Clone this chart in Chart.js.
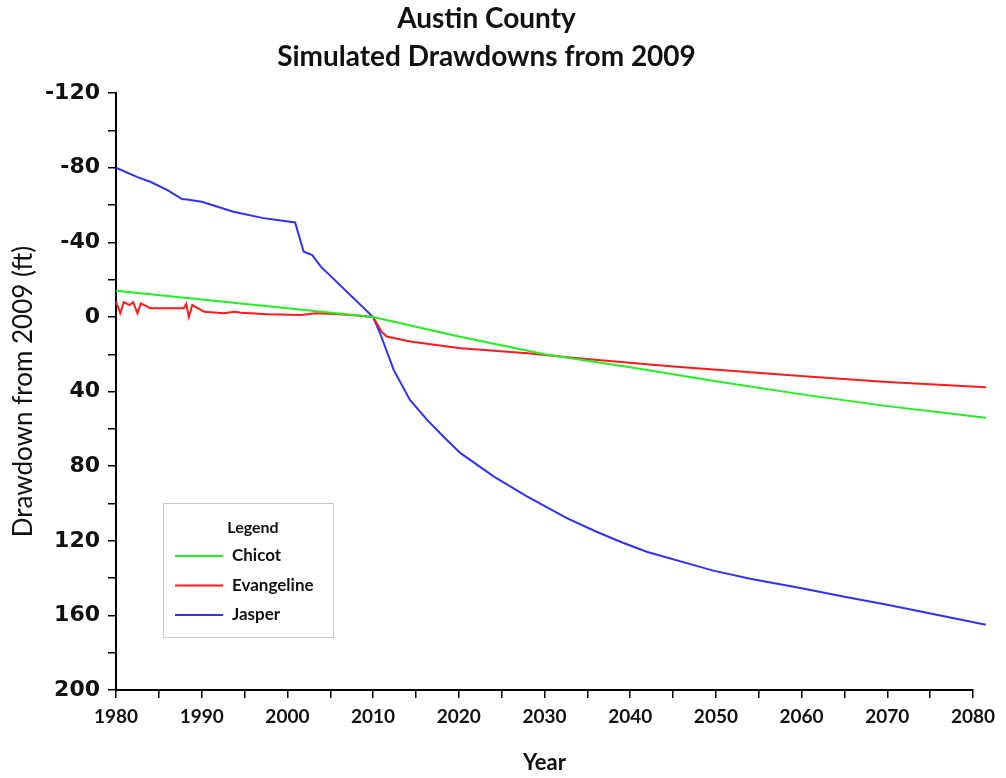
<!DOCTYPE html>
<html>
<head>
<meta charset="utf-8">
<title>Austin County Simulated Drawdowns</title>
<script src="https://cdn.jsdelivr.net/npm/chart.js@4/dist/chart.umd.min.js"></script>
<style>
  body { margin: 0; background: #fff; }
  #wrap { width: 1006px; height: 778px; position: relative; }
</style>
</head>
<body>
<div id="wrap"><canvas id="LineChart"></canvas></div>
<script>
// values (drawdown in ft, negative = rise)
var chicotYears = [1980, 2010, 2020, 2030, 2040, 2050, 2060, 2070, 2081.5];
var chicotValues = [-14, 0, 10.5, 20, 27, 34.5, 41.5, 47.8, 54];

var evangelineYears = [1980, 1980.5, 1980.9, 1981.6, 1982, 1982.5, 1982.9, 1984, 1987.9, 1988.2, 1988.5, 1988.9, 1990.3, 1992.6, 1993.8, 1994.6, 1997.7, 2001.6, 2003.3, 2006, 2008.5, 2010, 2011, 2011.6, 2014.3, 2020.2, 2028, 2034.2, 2045, 2059.9, 2070, 2081.5];
var evangelineValues = [-8.2, -2, -7.9, -6.4, -7.9, -2, -7.3, -4.7, -4.7, -7, 0, -6.4, -2.8, -2, -2.8, -2.3, -1.4, -1.1, -2, -1.5, -0.7, 0, 8, 10.5, 13.2, 16.8, 19.5, 22.2, 26.5, 31.6, 34.8, 37.7];

var jasperYears = [1980, 1982.5, 1984, 1986, 1987.7, 1988.3, 1990, 1993.7, 1997.2, 2000.9, 2001.9, 2002.9, 2003.9, 2010, 2010.8, 2012.4, 2014.3, 2016.3, 2018.4, 2020.2, 2024.1, 2028, 2032.6, 2036, 2039, 2042, 2049.7, 2054, 2060, 2065, 2070, 2081.5];
var jasperValues = [-80, -75, -72.5, -68, -63.2, -63, -61.8, -56.4, -53, -50.7, -35, -33.2, -27, 0, 8.6, 28.4, 44.5, 55.2, 65, 73, 85.6, 96.3, 107.9, 115, 120.8, 126, 136, 140.3, 145.4, 150, 154.3, 165];

var titleLines = ['Austin County', 'Simulated Drawdowns from 2009'];

function toPoints(xs, ys) {
    var pts = [];
    for (var i = 0; i < xs.length; i++) {
        pts.push({ x: xs[i], y: ys[i] });
    }
    return pts;
}

// small legend box inside the plot, like the original
var boxLegend = {
    id: 'boxLegend',
    afterDraw: function (chart) {
        var ctx = chart.ctx;
        var x = 163, y = 503, w = 170, h = 134;
        ctx.save();
        ctx.fillStyle = '#fff';
        ctx.fillRect(x, y, w, h);
        ctx.strokeStyle = '#c8c8c8';
        ctx.lineWidth = 1;
        ctx.strokeRect(x + 0.5, y + 0.5, w, h);
        ctx.fillStyle = '#111';
        ctx.textBaseline = 'middle';
        ctx.textAlign = 'center';
        ctx.font = 'bold 16px Lato';
        ctx.fillText('Legend', x + 90, y + 25);
        ctx.textAlign = 'left';
        ctx.font = 'bold 17px Lato';
        chart.data.datasets.forEach(function (ds, i) {
            var ly = y + 53 + i * 29.5;
            ctx.strokeStyle = ds.borderColor;
            ctx.lineWidth = 2;
            ctx.beginPath();
            ctx.moveTo(x + 12, ly);
            ctx.lineTo(x + 60, ly);
            ctx.stroke();
            ctx.fillText(ds.label, x + 69, ly);
        });
        ctx.restore();
    }
};

const ctx = document.getElementById('LineChart');
new Chart(ctx, {
    type: 'line',
    data: {
        datasets: [{
            label: 'Chicot',
            data: toPoints(chicotYears, chicotValues),
            borderColor: '#22ee22',
            borderWidth: 2,
            pointRadius: 0,
            clip: false
        }, {
            label: 'Evangeline',
            data: toPoints(evangelineYears, evangelineValues),
            borderColor: '#ff1a1a',
            borderWidth: 2,
            pointRadius: 0,
            clip: false
        }, {
            label: 'Jasper',
            data: toPoints(jasperYears, jasperValues),
            borderColor: '#3030ff',
            borderWidth: 2,
            pointRadius: 0,
            clip: false
        }]
    },
    options: {
        responsive: true,
        maintainAspectRatio: false,
        animation: false,
        layout: { padding: { left: 0, right: 33, top: 0, bottom: 0 } },
        plugins: {
            legend: { display: false },
            tooltip: { enabled: false },
            title: {
                display: true,
                text: titleLines,
                color: '#111',
                font: { family: 'Lato', size: 28, weight: 'bold', lineHeight: 1.36 },
                padding: { top: 0, bottom: 17 }
            }
        },
        scales: {
            x: {
                type: 'linear',
                min: 1980,
                max: 2080,
                afterFit: function (scale) { scale.height = 88; },
                border: { color: '#000', width: 2 },
                grid: { drawOnChartArea: false, drawTicks: true, tickLength: 8, color: '#000', lineWidth: 1.5 },
                ticks: {
                    stepSize: 5,
                    color: '#111',
                    padding: 7,
                    maxRotation: 0,
                    autoSkip: false,
                    font: { family: 'Lato', size: 19, weight: 'bold' },
                    callback: function (v) { return v % 10 === 0 ? String(v) : ''; }
                },
                title: {
                    display: true,
                    text: 'Year',
                    color: '#111',
                    font: { family: 'Lato', size: 22, weight: 'bold' },
                    padding: { top: 0, bottom: 2 }
                }
            },
            y: {
                type: 'linear',
                min: -120,
                max: 200,
                reverse: true,
                afterFit: function (scale) { scale.width = 116; },
                border: { color: '#000', width: 2 },
                grid: { drawOnChartArea: false, drawTicks: true, tickLength: 8, color: '#000', lineWidth: 1.5 },
                ticks: {
                    stepSize: 20,
                    color: '#111',
                    padding: 8,
                    autoSkip: false,
                    font: { family: 'DejaVu Sans', size: 22, weight: 'bold' },
                    callback: function (v) { return v % 40 === 0 ? String(v) : ''; }
                },
                title: {
                    display: true,
                    text: 'Drawdown from 2009 (ft)',
                    color: '#111',
                    font: { family: 'Lato', size: 26 },
                    padding: { top: 8, bottom: 0 }
                }
            }
        }
    },
    plugins: [boxLegend]
});
</script>
</body>
</html>
